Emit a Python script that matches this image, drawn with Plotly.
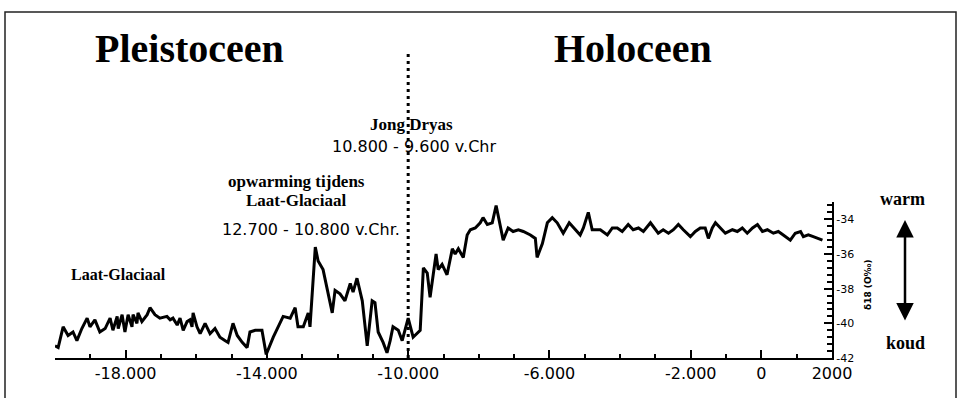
import plotly.graph_objects as go

# δ18O record from the Greenland ice core, late glacial to present (years, δ18O ‰)
years = [
    -20000, -19910, -19770, -19630, -19490, -19380, -19240, -19090, -19010, -18870,
    -18730, -18580, -18440, -18360, -18240, -18210, -18100, -18020, -17930, -17820,
    -17790, -17680, -17650, -17540, -17390, -17310, -17170, -17030, -16830, -16740,
    -16660, -16540, -16460, -16370, -16260, -16180, -16120, -16090, -15980, -15890,
    -15750, -15610, -15470, -15330, -15180, -15100, -14960, -14840, -14700, -14560,
    -14480, -14330, -14140, -14020, -13820, -13630, -13540, -13340, -13200, -13120,
    -12970, -12830, -12780, -12630, -12550, -12410, -12150, -12070, -11930, -11790,
    -11640, -11560, -11450, -11300, -11160, -11020, -10940, -10850, -10710, -10600,
    -10510, -10430, -10280, -10170, -10000, -9860, -9660, -9570, -9460, -9380,
    -9290, -9210, -9150, -9040, -8900, -8750, -8670, -8580, -8440, -8330,
    -8240, -8100, -7960, -7880, -7760, -7620, -7510, -7390, -7310, -7170,
    -7030, -6880, -6740, -6540, -6400, -6350, -6200, -6060, -5920, -5780,
    -5610, -5440, -5270, -5130, -5040, -4900, -4790, -4560, -4360, -4220,
    -4080, -3940, -3770, -3630, -3480, -3340, -3140, -3000, -2920, -2780,
    -2630, -2490, -2350, -2210, -2010, -1870, -1730, -1590, -1500, -1390,
    -1300, -1160, -1020, -820, -680, -540, -400, -250, -110, 30,
    170, 340, 480, 620, 820, 960, 1110, 1190, 1330, 1470,
    1620, 1730,
]
d18o = [
    -41.3, -41.4, -40.2, -40.7, -40.5, -41.0, -40.3, -39.7, -40.2, -39.8,
    -40.5, -40.3, -39.7, -40.4, -39.6, -40.3, -39.5, -40.5, -39.5, -40.2,
    -39.5, -40.0, -39.4, -39.9, -39.5, -39.1, -39.5, -39.7, -39.6, -39.8,
    -39.7, -40.1, -39.7, -40.4, -39.9, -39.8, -40.2, -39.4, -40.2, -40.6,
    -40.0, -40.6, -40.3, -40.8, -41.0, -41.1, -40.0, -40.7, -41.1, -41.4,
    -40.5, -40.4, -40.4, -41.8, -40.8, -40.0, -39.6, -39.7, -39.1, -40.2,
    -40.2, -39.4, -40.2, -35.6, -36.4, -36.9, -39.4, -38.1, -38.3, -38.7,
    -37.7, -38.2, -37.4, -38.7, -41.3, -38.7, -38.8, -40.5, -41.1, -41.7,
    -41.0, -40.2, -40.4, -41.0, -39.7, -40.8, -40.4, -36.8, -37.1, -38.5,
    -37.1, -36.0, -36.9, -36.6, -37.2, -35.7, -36.0, -35.7, -36.2, -34.9,
    -34.6, -34.5, -34.2, -33.9, -34.3, -34.2, -33.2, -34.5, -35.2, -34.5,
    -34.7, -34.6, -34.7, -34.9, -35.1, -36.2, -35.4, -34.2, -33.9, -34.2,
    -34.8, -34.2, -34.6, -34.9, -34.5, -33.6, -34.6, -34.6, -34.9, -34.5,
    -34.5, -34.7, -34.3, -34.6, -34.5, -34.7, -34.2, -34.6, -34.8, -34.6,
    -34.8, -34.6, -34.3, -34.6, -35.0, -34.7, -34.5, -34.5, -35.1, -34.5,
    -34.2, -34.5, -34.8, -34.6, -34.7, -34.5, -34.8, -34.5, -34.3, -34.7,
    -34.6, -34.8, -34.7, -34.9, -35.2, -34.8, -34.7, -35.0, -34.9, -35.0,
    -35.1, -35.2,
]

x_tick_vals = [-18000, -14000, -10000, -6000, -2000, 0, 2000]
x_tick_text = ["-18.000", "-14.000", "-10.000", "-6.000", "-2.000", "0", "2000"]
y_tick_vals = [-42, -40, -38, -36, -34]
y_tick_text = ["-42", "-40", "-38", "-36", "-34"]

W, H = 961, 398
L, R, T, B = 55, 129, 202, 40
PW, PH = W - L - R, H - T - B


def px(x):
    return (x - L) / PW


def py(y):
    return (H - B - y) / PH


SERIF = "Liberation Serif, Times New Roman, serif"
SANS = "DejaVu Sans, Arial, sans-serif"

fig = go.Figure()
fig.add_trace(go.Scatter(
    x=years, y=d18o, mode="lines",
    line=dict(color="black", width=3),
    hoverinfo="skip", showlegend=False,
))

fig.update_layout(
    width=W, height=H,
    margin=dict(l=L, r=R, t=T, b=B, pad=0),
    paper_bgcolor="white", plot_bgcolor="white",
    showlegend=False,
    xaxis=dict(
        range=[-20000, 2000], showgrid=False, zeroline=False,
        showline=True, linecolor="black", linewidth=2,
        ticks="inside", ticklen=8, tickwidth=2, tickcolor="black",
        tickmode="array", tickvals=x_tick_vals, ticktext=x_tick_text,
        tickfont=dict(family=SANS, size=16, color="black"),
        minor=dict(tickmode="linear", tick0=-20000, dtick=1000,
                   ticks="inside", ticklen=4, tickwidth=2, tickcolor="black"),
    ),
    yaxis=dict(
        range=[-42, -33], side="right", showgrid=False, zeroline=False,
        showline=True, linecolor="black", linewidth=2,
        ticks="inside", ticklen=8, tickwidth=2, tickcolor="black",
        tickmode="array", tickvals=y_tick_vals, ticktext=y_tick_text,
        tickfont=dict(family=SANS, size=11, color="black"),
        minor=dict(tickmode="linear", tick0=-42, dtick=0.4,
                   ticks="inside", ticklen=5, tickwidth=2, tickcolor="black"),
    ),
)

# boundary between Pleistocene and Holocene
fig.add_shape(type="line", xref="x", yref="paper",
              x0=-10000, x1=-10000, y0=0, y1=py(50),
              line=dict(color="black", width=3, dash="3px,4px"))

# outer frame
fig.add_shape(type="rect", xref="paper", yref="paper",
              x0=px(5), x1=px(956), y0=py(420), y1=py(12),
              line=dict(color="#222", width=1.5))

texts = [
    ("<b>Pleistoceen</b>", 189, 48, SERIF, 40),
    ("<b>Holoceen</b>", 633, 48, SERIF, 40),
    ("<b>Jong Dryas</b>", 411, 124, SERIF, 17),
    ("10.800 - 9.600 v.Chr", 414, 146, SANS, 16),
    ("<b>opwarming tijdens</b>", 296, 181, SERIF, 17),
    ("<b>Laat-Glaciaal</b>", 296, 200, SERIF, 17),
    ("12.700 - 10.800 v.Chr.", 311, 229, SANS, 16),
    ("<b>Laat-Glaciaal</b>", 118, 274, SERIF, 16),
    ("<b>warm</b>", 903, 199, SERIF, 18),
    ("<b>koud</b>", 905, 343, SERIF, 18),
]
for txt, x, y, fam, size in texts:
    fig.add_annotation(text=txt, x=px(x), y=py(y), xref="paper", yref="paper",
                       showarrow=False, xanchor="center", yanchor="middle",
                       font=dict(family=fam, size=size, color="black"))

fig.add_annotation(text="<b>δ18 (O‰)</b>", x=px(875), y=py(285),
                   xref="paper", yref="paper", showarrow=False, textangle=-90,
                   font=dict(family=SANS, size=9, color="black"))

# warm / koud double arrow
fig.add_annotation(text="", x=px(905), y=py(220), xref="paper", yref="paper",
                   ax=0, ay=102, axref="pixel", ayref="pixel",
                   showarrow=True, arrowside="end+start",
                   arrowhead=2, startarrowhead=2,
                   arrowsize=1.4, startarrowsize=1.4,
                   arrowwidth=2.5, arrowcolor="black")

fig.write_html("out.html")
